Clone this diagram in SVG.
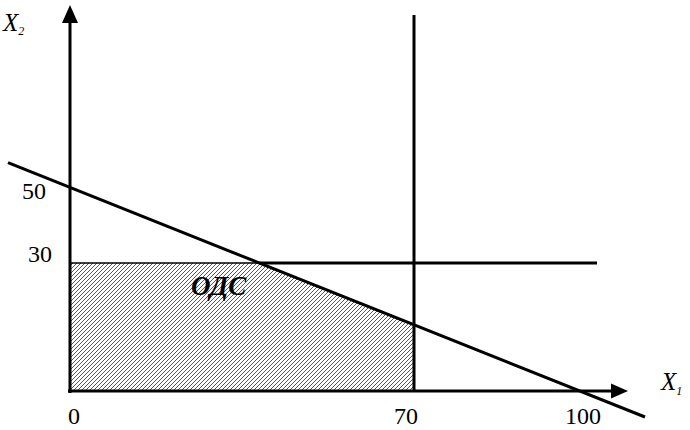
<svg xmlns="http://www.w3.org/2000/svg" width="690" height="430" viewBox="0 0 690 430">
<defs>
<pattern id="hatch" patternUnits="userSpaceOnUse" width="4" height="4">
<rect width="4" height="4" fill="#fff"/>
<path d="M-1,1 l2,-2 M0,4 l4,-4 M3,5 l2,-2" stroke="#444" stroke-width="0.9"/>
</pattern>
<style>
.ln{stroke:#000;stroke-width:3;fill:none;stroke-linecap:butt}
.t{font-family:"Liberation Serif","Times New Roman",serif;font-size:24px;fill:#000}
.ti{font-family:"Liberation Serif","Times New Roman",serif;font-style:italic;fill:#000}
</style>
</defs>
<g id="region">
<polygon points="70,263 259,263 414,325 414,391 70,391" fill="url(#hatch)" stroke="#000" stroke-width="1.5"/>
</g>
<g id="connectors">
<line class="ln" x1="70" y1="393" x2="70" y2="20"/>
<polygon points="70,5 62,23 78,23" fill="#000"/>
<line class="ln" x1="68" y1="391" x2="614" y2="391"/>
<polygon points="628,391 611,383.5 611,398.5" fill="#000"/>
<line class="ln" x1="414" y1="15" x2="414" y2="391"/>
<line class="ln" x1="259" y1="263" x2="597" y2="263"/>
<line class="ln" x1="8" y1="162.7" x2="645" y2="417"/>
</g>
<g id="labels">
<text class="ti" x="3" y="31" font-size="25">X<tspan font-size="12" dy="4">2</tspan></text>
<text class="ti" x="661" y="390" font-size="25">X<tspan font-size="12" dy="5">1</tspan></text>
<text class="t" x="22" y="199">50</text>
<text class="t" x="28" y="262">30</text>
<text class="t" x="68" y="424">0</text>
<text class="t" x="394" y="424">70</text>
<text class="t" x="565" y="424">100</text>
<text class="ti" x="191" y="295" font-size="27" font-weight="bold">ОДС</text>
</g>
</svg>
